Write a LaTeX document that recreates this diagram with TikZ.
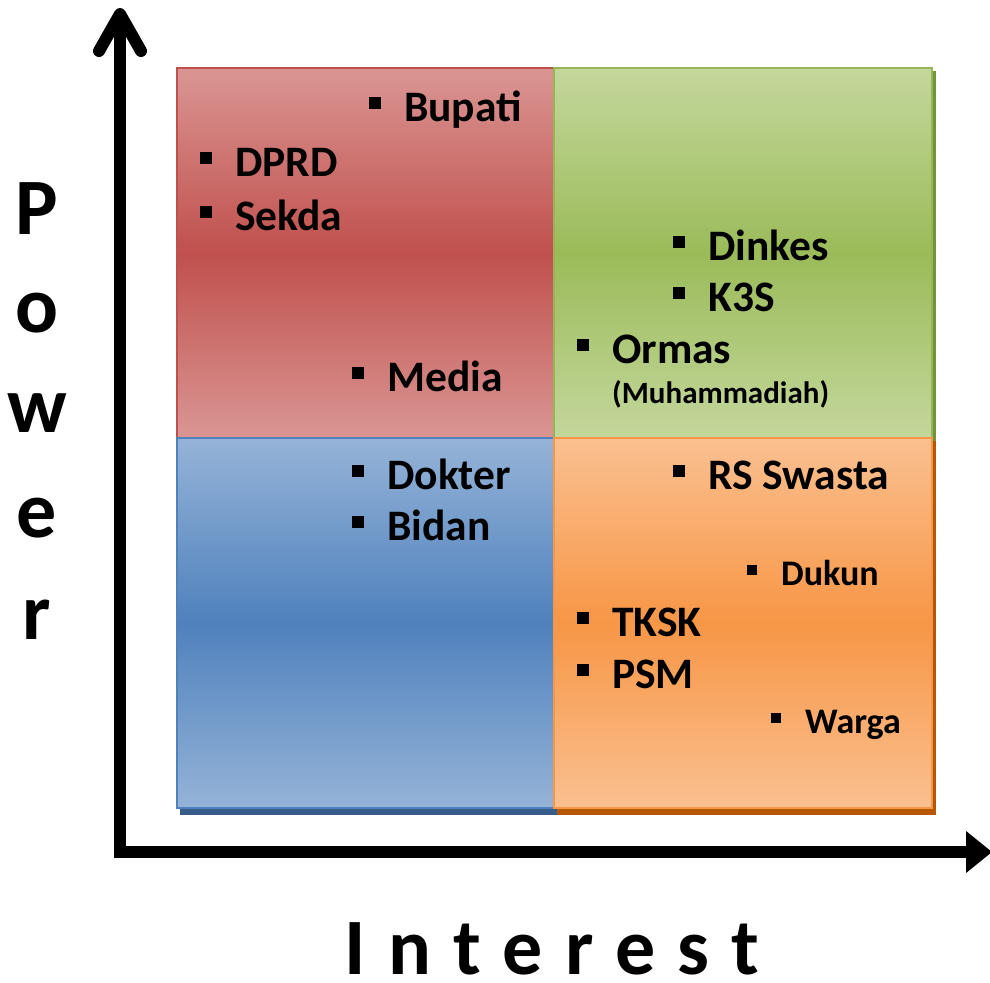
\documentclass[tikz,border=0pt]{standalone}
\usepackage{fontspec}
\setmainfont{Carlito}
\definecolor{redL}{RGB}{218,150,148}
\definecolor{redM}{RGB}{192,80,77}
\definecolor{redB}{RGB}{192,80,77}
\definecolor{greenL}{RGB}{196,215,156}
\definecolor{greenM}{RGB}{155,187,89}
\definecolor{greenB}{RGB}{150,182,86}
\definecolor{blueL}{RGB}{149,179,215}
\definecolor{blueM}{RGB}{79,129,189}
\definecolor{blueB}{RGB}{79,129,189}
\definecolor{orangeL}{RGB}{250,192,144}
\definecolor{orangeM}{RGB}{247,150,70}
\definecolor{orangeB}{RGB}{247,150,70}
\definecolor{shBlue}{RGB}{56,93,138}
\definecolor{shOrange}{RGB}{182,87,8}
\definecolor{shGreen}{RGB}{118,146,60}
\newcommand\entry[6]{%
  \node[bul, minimum size=#6] (#1b) at (#2-29,#3-0.41*#5) {};
  \node[lab, font=\fontsize{#5}{#5}\selectfont\bfseries] (#1) at (#2,#3) {#4};}
\begin{document}
\begin{tikzpicture}[x=1pt,y=-1pt,
  bul/.style={shape=rectangle, fill=black, inner sep=0pt},
  lab/.style={anchor=base west, inner sep=0pt},
  ax/.style={line width=12pt, black},
  big/.style={anchor=base, inner sep=0pt, font=\fontsize{80}{80}\selectfont\bfseries}]
\useasboundingbox (0,0) rectangle (990,982);
% shadows
\fill[shGreen] (557,71) rectangle (936,441);
\fill[shBlue] (180,441) rectangle (557,815);
\fill[shOrange] (557,441) rectangle (936,815);
% quadrants
\shade[top color=redL, bottom color=redL, middle color=redM] (177,68) rectangle (554,438);
\draw[redB, line width=1.5pt] (177,68) rectangle (554,438);
\shade[top color=greenL, bottom color=greenL, middle color=greenM] (554,68) rectangle (932,438);
\draw[greenB, line width=1.5pt] (554,68) rectangle (932,438);
\shade[top color=blueL, bottom color=blueL, middle color=blueM] (177,438) rectangle (554,808);
\draw[blueB, line width=1.5pt] (177,438) rectangle (554,808);
\shade[top color=orangeL, bottom color=orangeL, middle color=orangeM] (554,438) rectangle (932,808);
\draw[orangeB, line width=1.5pt] (554,438) rectangle (932,808);
% axes
\coordinate (vb) at (120,858);
\coordinate (vt) at (120,14);
\coordinate (vl) at (99,51);
\coordinate (vr) at (141,51);
\draw[ax] (vb) -- (120,22);
\draw[ax, line cap=round, line join=round] (vl) -- (vt) -- (vr);
\coordinate (ho) at (114,852);
\coordinate (hr) at (968,852);
\coordinate (ht) at (992,852);
\draw[ax] (ho) -- (hr);
\fill[black] (966,831) -- (ht) -- (966,873) -- cycle;
% axis labels
\node[big] (lP) at (37,234) {P};
\node[big] (lo) at (37,332) {o};
\node[big] (lw) at (37,432) {w};
\node[big] (le) at (37,537) {e};
\node[big] (lr) at (37,639) {r};
\node[big] (interest) at (552,974) {I\kern22pt n\kern22pt t\kern22pt e\kern22pt r\kern22pt e\kern22pt s\kern22pt t};
% entries
\entry{bupati}{404}{121}{Bupati}{43.5}{12pt}
\entry{dprd}{235}{176}{DPRD}{43.5}{12pt}
\entry{sekda}{235}{230}{Sekda}{43.5}{12pt}
\entry{media}{387}{391}{Media}{43.5}{12pt}
\entry{dokter}{387}{489}{Dokter}{43.5}{12pt}
\entry{bidan}{387}{540}{Bidan}{43.5}{12pt}
\entry{dinkes}{708}{260}{Dinkes}{43.5}{12pt}
\entry{ksan}{708}{311}{K3S}{43.5}{12pt}
\entry{ormas}{612}{363}{Ormas}{43.5}{12pt}
\node[lab, font=\fontsize{31}{31}\selectfont\bfseries] (muh) at (612,403) {(Muhammadiah)};
\entry{rs}{708}{489}{RS Swasta}{43.5}{12pt}
\entry{dukun}{781}{585}{Dukun}{36}{10pt}
\entry{tksk}{612}{636}{TKSK}{43.5}{12pt}
\entry{psm}{612}{688}{PSM}{43.5}{12pt}
\entry{warga}{805}{733}{Warga}{36}{10pt}
\end{tikzpicture}
\end{document}
